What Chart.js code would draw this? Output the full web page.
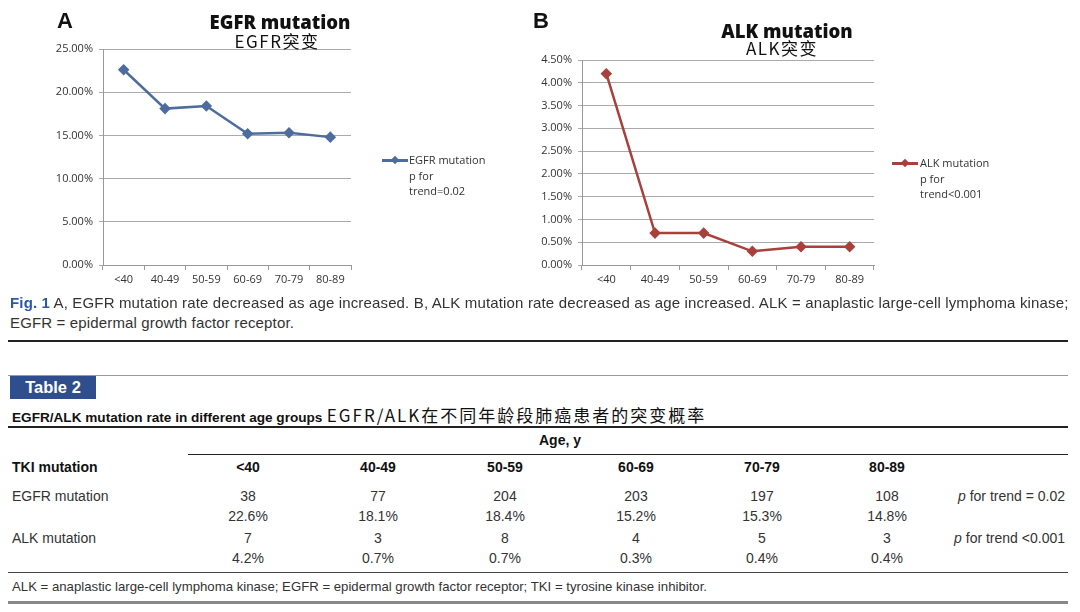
<!DOCTYPE html>
<html>
<head>
<meta charset="utf-8">
<script src="https://cdn.jsdelivr.net/npm/chart.js@4"></script>
<style>
  body { margin: 0; width: 1080px; height: 612px; background: #fff; position: relative; overflow: hidden;
         font-family: "Liberation Sans", Arial, sans-serif; color: #222; }
  .abs { position: absolute; white-space: nowrap; }
  canvas { position: absolute; top: 0; }
  .panel { font-size: 22px; font-weight: bold; color: #111; }
  .ttl { font-family: "Open Sans", "Liberation Sans", sans-serif; font-weight: 800; font-size: 18.5px; color: #111; transform: translateX(-50%); }
  .sub { font-family: "Noto Sans CJK SC", sans-serif; font-size: 17px; letter-spacing: 1.5px; color: #111; transform: translateX(-50%); line-height: 1; }
  .leg { font-family: "Open Sans", sans-serif; font-size: 11px; color: #333; line-height: 15.5px; }
  .sw { position: absolute; height: 2.5px; width: 26px; }
  .sw i { position: absolute; left: 10px; top: -2.5px; width: 6px; height: 6px; transform: rotate(45deg); }
  .cap { font-size: 14px; color: #333; }
  .rule { position: absolute; left: 8px; width: 1060px; }
  .cell { font-size: 14px; color: #333; transform: translateX(-50%); }
  .hd { font-weight: bold; color: #111; }
</style>
</head>
<body>
<canvas id="chartA" width="520" height="300" style="left:0"></canvas>
<canvas id="chartB" width="560" height="300" style="left:520px"></canvas>

<div class="abs panel" style="left:57px;top:8px">A</div>
<div class="abs ttl" style="left:280px;top:9px">EGFR mutation</div>
<div class="abs sub" style="left:277px;top:32px">EGFR突变</div>
<div class="abs panel" style="left:533px;top:8px">B</div>
<div class="abs ttl" style="left:787px;top:18px">ALK mutation</div>
<div class="abs sub" style="left:782px;top:39px">ALK突变</div>

<div class="abs leg" style="left:409px;top:152px">EGFR mutation<br>p for<br>trend=0.02</div>
<div class="sw" style="left:382px;top:159px;background:#4d6d9e"><i style="background:#4d6d9e"></i></div>
<div class="abs leg" style="left:920px;top:155px">ALK mutation<br>p for<br>trend&lt;0.001</div>
<div class="sw" style="left:892px;top:162px;background:#a8403c"><i style="background:#a8403c"></i></div>

<div class="abs cap" style="left:10px;top:294px;font-size:15px;letter-spacing:0.15px"><b style="color:#2b5ba6">Fig. 1</b> A, EGFR mutation rate decreased as age increased. B, ALK mutation rate decreased as age increased. ALK = anaplastic large-cell lymphoma kinase;</div>
<div class="abs cap" style="left:10px;top:314px;font-size:15px;letter-spacing:0.15px">EGFR = epidermal growth factor receptor.</div>
<div class="rule" style="top:340px;height:2px;background:#222"></div>

<div class="rule" style="top:375px;height:1px;background:#999"></div>
<div class="abs" style="left:10px;top:376px;width:86px;height:23px;background:#2f4e8e;color:#fff;font-weight:bold;font-size:16.5px;line-height:23px;text-align:center">Table 2</div>
<div class="abs" style="left:12px;top:402px"><span style="font-weight:bold;font-size:13.6px;color:#111">EGFR/ALK mutation rate in different age groups</span> <span style="font-family:'Noto Sans CJK SC';font-size:17px;letter-spacing:2px;color:#111">EGFR/ALK在不同年龄段肺癌患者的突变概率</span></div>
<div class="rule" style="top:426px;height:2px;background:#222"></div>
<div class="abs cell hd" style="left:560px;top:432px">Age, y</div>
<div class="abs" style="left:188px;top:454px;width:880px;height:1px;background:#222"></div>
<div id="tbl"></div>
<div class="rule" style="top:572px;height:1px;background:#444"></div>
<div class="abs cap" style="left:12px;top:579px;font-size:13.2px">ALK = anaplastic large-cell lymphoma kinase; EGFR = epidermal growth factor receptor; TKI = tyrosine kinase inhibitor.</div>
<div class="rule" style="top:601px;height:3px;background:#888"></div>

<script>
// Dữ liệu
const ageGroups = ['<40', '40-49', '50-59', '60-69', '70-79', '80-89'];
const egfrRate = [22.6, 18.1, 18.4, 15.2, 15.3, 14.8];
const alkRate = [4.2, 0.7, 0.7, 0.3, 0.4, 0.4];
const egfrCount = [38, 77, 204, 203, 197, 108];
const alkCount = [7, 3, 8, 4, 5, 3];
const colCenters = [248, 378, 505, 636, 762, 887];

const tickFont = { family: 'Open Sans', size: 11 };

function makeChart(id, label, data, color, max, step, yWidth, pad) {
  return new Chart(document.getElementById(id), {
    type: 'line',
    data: {
      labels: ageGroups,
      datasets: [{
        label: label,
        data: data,
        borderColor: color,
        backgroundColor: color,
        borderWidth: 2.5,
        pointStyle: 'rectRot',
        pointRadius: 4,
        tension: 0,
      }]
    },
    options: {
      responsive: false,
      animation: false,
      layout: { padding: pad },
      plugins: { legend: { display: false }, tooltip: { enabled: false } },
      scales: {
        x: {
          offset: true,
          grid: { offset: true, drawOnChartArea: false, tickLength: 5, color: '#999' },
          border: { color: '#999' },
          ticks: { color: '#333', font: tickFont, padding: 3, maxRotation: 0 },
          afterFit(s) { s.height = 35; }
        },
        y: {
          min: 0, max: max,
          grid: { color: '#aaa', tickLength: 4 },
          border: { color: '#999' },
          ticks: { stepSize: step, color: '#333', font: tickFont, padding: 6,
                   callback: v => v.toFixed(2) + '%' },
          afterFit(s) { s.width = yWidth; }
        }
      }
    }
  });
}

makeChart('chartA', 'EGFR mutation', egfrRate, '#4d6d9e', 25, 5, 103, { top: 49, right: 169, left: 0, bottom: 0 });
makeChart('chartB', 'ALK mutation', alkRate, '#a8403c', 4.5, 0.5, 62, { top: 60, right: 206, left: 0, bottom: 0 });

// Bảng
const tbl = document.getElementById('tbl');
function put(text, x, y, cls, extra) {
  const d = document.createElement('div');
  d.className = 'abs ' + cls;
  d.style.left = x + 'px';
  d.style.top = y + 'px';
  if (extra) Object.assign(d.style, extra);
  d.innerHTML = text;
  tbl.appendChild(d);
}
put('TKI mutation', 12, 459, 'cap hd');
ageGroups.forEach((g, i) => put(g.replace('<', '&lt;'), colCenters[i], 459, 'cell hd'));
put('EGFR mutation', 12, 488, 'cap');
put('ALK mutation', 12, 530, 'cap');
egfrCount.forEach((v, i) => put(v, colCenters[i], 488, 'cell'));
egfrRate.forEach((v, i) => put(v.toFixed(1) + '%', colCenters[i], 508, 'cell'));
alkCount.forEach((v, i) => put(v, colCenters[i], 530, 'cell'));
alkRate.forEach((v, i) => put(v.toFixed(1) + '%', colCenters[i], 550, 'cell'));
put('<i>p</i> for trend = 0.02', 1065, 488, 'cap', { transform: 'translateX(-100%)' });
put('<i>p</i> for trend &lt;0.001', 1065, 530, 'cap', { transform: 'translateX(-100%)' });
</script>
</body>
</html>
